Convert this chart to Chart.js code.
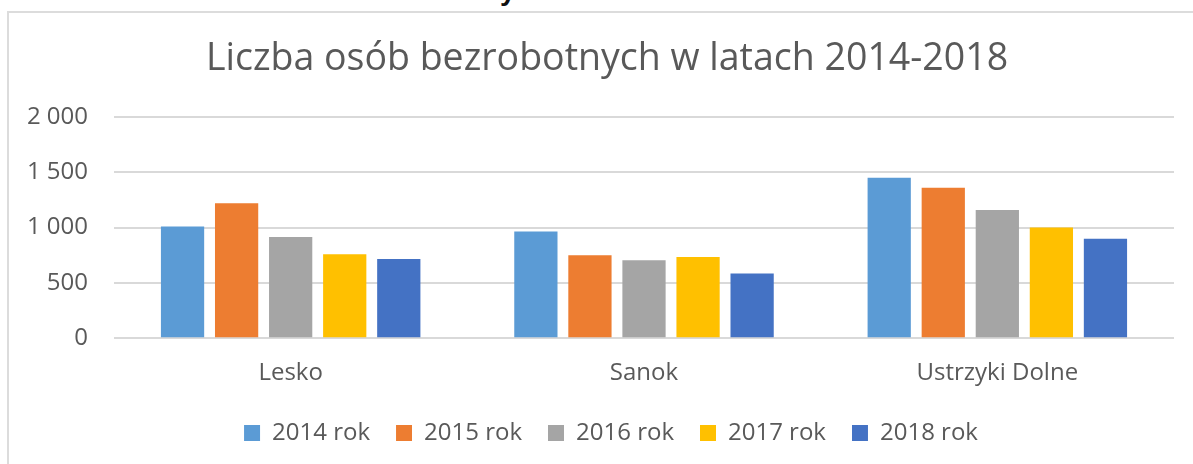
<!DOCTYPE html>
<html>
<head>
<meta charset="utf-8">
<script src="https://cdn.jsdelivr.net/npm/chart.js@4"></script>
<style>
  html, body { margin: 0; padding: 0; background: #fff; overflow: hidden; }
  body { width: 1193px; height: 464px; position: relative; }
  #frame { position: absolute; left: 7px; top: 11px; width: 1198px; height: 470px; border: 2px solid #dcdcdc; box-sizing: border-box; }
  #frag { position: absolute; left: 500px; top: -25px; font: bold 28px "Liberation Sans", sans-serif; color: #111; line-height: normal; }
</style>
</head>
<body>
<div id="frag">y</div>
<div id="frame"><canvas id="bar_chart" width="1194" height="466"></canvas></div>
<script>
// values
const categories = ['Lesko', 'Sanok', 'Ustrzyki Dolne'];
const series_names = ['2014 rok', '2015 rok', '2016 rok', '2017 rok', '2018 rok'];
const v2014 = [1010, 965, 1450];
const v2015 = [1220, 750, 1360];
const v2016 = [915, 705, 1160];
const v2017 = [760, 735, 1000];
const v2018 = [715, 585, 900];
const y_ticks = ['0', '500', '1 000', '1 500', '2 000'];

const colors = ['#5B9BD5', '#ED7D31', '#A5A5A5', '#FFC000', '#4472C4'];
const all_values = [v2014, v2015, v2016, v2017, v2018];

var datasets = [];
for (i = 0; i < series_names.length; i++) {
  datasets.push({
    label: series_names[i],
    data: all_values[i],
    backgroundColor: colors[i],
    borderWidth: 0,
    barPercentage: 0.8,
    categoryPercentage: 0.765
  });
}

// center title + legend on the frame, and pull the legend up a bit
const boxShift = {
  id: 'boxShift',
  afterLayout: function (chart) {
    chart.titleBlock.left += 31;
    chart.legend.left += 39;
    chart.legend.top -= 14;
    chart.legend.bottom -= 14;
  }
};

var font_name = '"Open Sans", sans-serif';
var ctx = document.getElementById('bar_chart').getContext('2d');
var myChart = new Chart(ctx, {
  type: 'bar',
  data: { labels: categories, datasets: datasets },
  plugins: [boxShift],
  options: {
    responsive: false,
    animation: false,
    layout: { padding: { left: 0, right: 29, top: 0, bottom: 10 } },
    plugins: {
      title: {
        display: true,
        text: 'Liczba osób bezrobotnych w latach 2014-2018',
        color: '#595959',
        font: { family: font_name, size: 37.5, weight: 'normal' },
        padding: { top: 24, bottom: 35 }
      },
      legend: {
        position: 'bottom',
        labels: {
          color: '#595959',
          font: { family: font_name, size: 24 },
          boxWidth: 16,
          boxHeight: 16,
          padding: 26
        }
      },
      tooltip: { enabled: false }
    },
    scales: {
      x: {
        grid: { display: false, drawTicks: false },
        border: { display: false },
        ticks: { color: '#595959', font: { family: font_name, size: 24 }, padding: 21 }
      },
      y: {
        min: 0,
        max: 2000,
        afterFit: function (scale) { scale.width = 105; },
        grid: { color: '#d9d9d9', lineWidth: 2, drawTicks: false },
        border: { display: false },
        ticks: {
          stepSize: 500,
          padding: 26,
          color: '#595959',
          font: { family: font_name, size: 24 },
          callback: function (value) { return y_ticks[value / 500]; }
        }
      }
    }
  }
});
</script>
</body>
</html>
